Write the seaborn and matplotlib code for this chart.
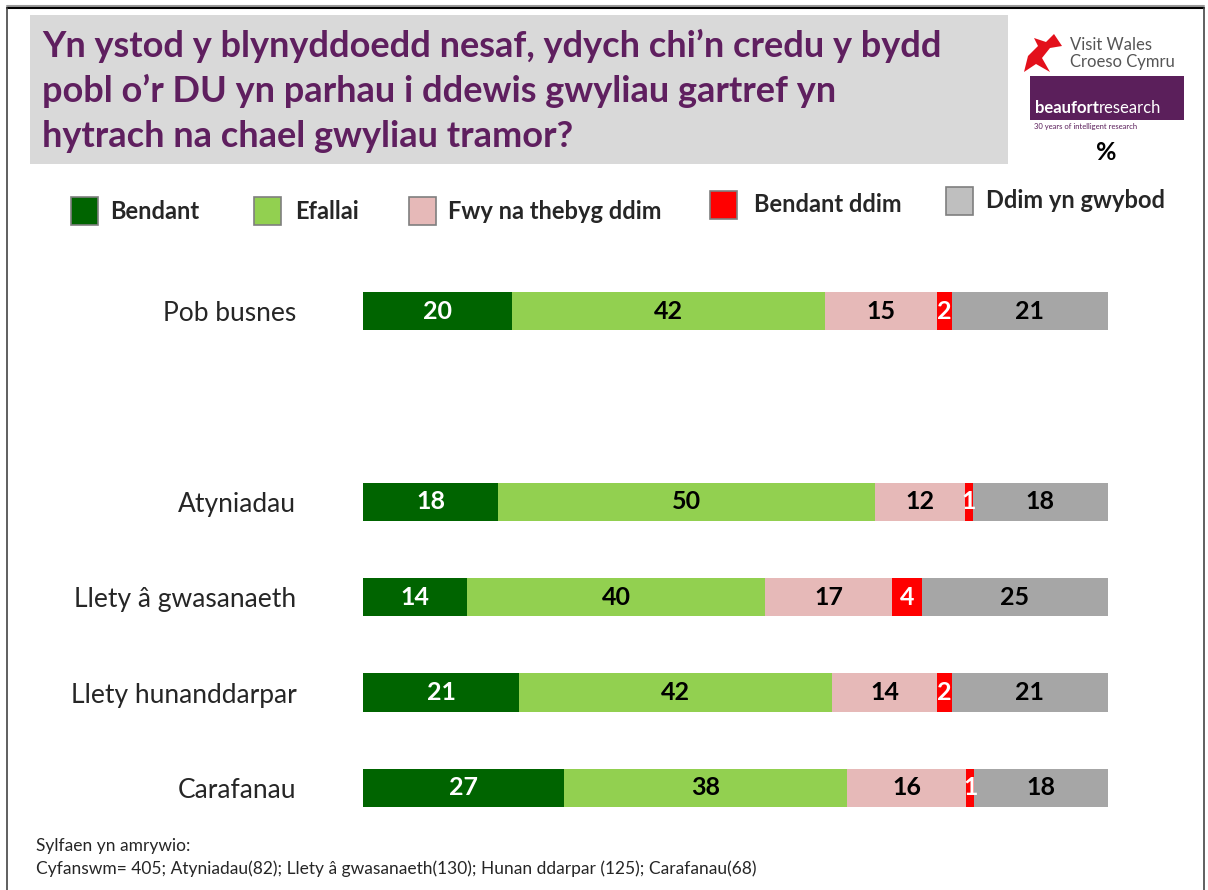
import matplotlib
matplotlib.use('Agg')
import matplotlib.pyplot as plt
from matplotlib.patches import Rectangle, Polygon
from matplotlib.lines import Line2D
from matplotlib.text import Annotation
import seaborn as sns
import numpy as np

# data
categories = ['Pob busnes', 'Atyniadau', 'Llety â gwasanaeth', 'Llety hunanddarpar', 'Carafanau']
row_pos = [0, 2, 3, 4, 5]
series = ['Bendant', 'Efallai', 'Fwy na thebyg ddim', 'Bendant ddim', 'Ddim yn gwybod']
bendant = [20, 18, 14, 21, 27]
efallai = [42, 50, 40, 42, 38]
fwy_na_thebyg = [15, 12, 17, 14, 16]
bendant_ddim = [2, 1, 4, 2, 1]
ddim_gwybod = [21, 18, 25, 21, 18]

colors = ['#006400', '#92D050', '#E6B9B8', '#FF0000', '#A6A6A6']
legend_colors = ['#006400', '#92D050', '#E6B9B8', '#FF0000', '#BFBFBF']
label_colors = ['white', 'black', 'black', 'white', 'black']

title_lines = ["Yn ystod y blynyddoedd nesaf, ydych chi\u2019n credu y bydd",
               "pobl o\u2019r DU yn parhau i ddewis gwyliau gartref yn",
               "hytrach na chael gwyliau tramor?"]
foot_lines = ["Sylfaen yn amrywio:",
              "Cyfanswm= 405; Atyniadau(82); Llety \u00e2 gwasanaeth(130); Hunan ddarpar (125); Carafanau(68)"]

sns.set_theme(style='white')
plt.rcParams['font.family'] = ['Lato', 'DejaVu Sans']

W, H = 1208, 890
fig = plt.figure(figsize=(W / 100, H / 100), dpi=100)


def fx(px):
    return px / W


def fy(py):
    return 1 - py / H


ax = fig.add_axes([fx(363), fy(807), fx(745), 515 / H])

values = np.array([bendant, efallai, fwy_na_thebyg, bendant_ddim, ddim_gwybod], dtype=float)
shares = values / values.sum(axis=0) * 100
cum = np.cumsum(shares, axis=0)

# stacked bars: draw cumulative totals from the back to the front
for i in range(len(series) - 1, -1, -1):
    sns.barplot(x=cum[i], y=row_pos, orient='h', native_scale=True,
                color=colors[i], saturation=1, width=0.4, errorbar=None,
                linewidth=0, ax=ax)

for i in range(len(series)):
    left = cum[i] - shares[i]
    for j, y in enumerate(row_pos):
        ax.text(left[j] + shares[i][j] / 2, y, str(int(values[i][j])),
                ha='center', va='center', fontsize=18, fontweight='bold',
                color=label_colors[i])

ax.set_xlim(0, 100)
ax.set_ylim(5.2, -0.2)
ax.set_yticks(row_pos)
ax.set_yticklabels(categories, fontsize=19)
ax.set_xticks([])
ax.set_xlabel('')
ax.set_ylabel('')
ax.tick_params(axis='y', length=0, pad=48)
for s in ax.spines.values():
    s.set_visible(False)

# frame
fig.add_artist(Line2D([fx(7), fx(1204)], [fy(6), fy(6)], color='#999999', lw=1.5))
fig.add_artist(Line2D([fx(7), fx(1204)], [fy(8), fy(8)], color='black', lw=1.5))
fig.add_artist(Line2D([fx(7), fx(7)], [fy(8), 0], color='#444444', lw=1.2))
fig.add_artist(Line2D([fx(1204), fx(1204)], [fy(8), 0], color='#444444', lw=1.2))

# title
fig.add_artist(Rectangle((fx(30), fy(164)), fx(978), 149 / H, color='#D9D9D9', lw=0))
for k, line in enumerate(title_lines):
    fig.text(fx(42), fy(57 + 45 * k), line, fontsize=26, fontweight='bold',
             color='#5F1F5F', va='baseline', ha='left')

# logos
fig.add_artist(Polygon([(fx(1024), fy(72)), (fx(1028), fy(56)), (fx(1038), fy(46)),
                        (fx(1034), fy(38)), (fx(1046), fy(42)), (fx(1054), fy(34)),
                        (fx(1062), fy(46)), (fx(1050), fy(48)), (fx(1042), fy(58)),
                        (fx(1050), fy(72)), (fx(1036), fy(64))], closed=True,
                       color='#E3101B', lw=0))
fig.text(fx(1070), fy(45), 'Visit Wales', fontsize=12, color='#555555', va='center')
fig.text(fx(1070), fy(62), 'Croeso Cymru', fontsize=12, color='#555555', va='center')
fig.add_artist(Rectangle((fx(1030), fy(120)), fx(154), 44 / H, color='#5B1F5B', lw=0))
t_b = fig.text(fx(1035), fy(116), 'beaufort', fontsize=12, fontweight='bold',
               color='white', va='bottom')
fig.add_artist(Annotation('research', xy=(1, 0), xycoords=t_b, fontsize=12,
                          color='white', va='bottom', ha='left'))
fig.text(fx(1034), fy(127), '30 years of intelligent research', fontsize=5.5,
         color='#5B1F5B', va='center')
fig.text(fx(1106), fy(153), '%', fontsize=18, fontweight='bold', color='black',
         ha='center', va='center')

# legend
legend_items = [(71, 211, 110), (254, 211, 295), (409, 211, 448), (710, 205, 754), (946, 201, 986)]
for (px, py, tx), name, c in zip(legend_items, series, legend_colors):
    fig.add_artist(Rectangle((fx(px), fy(py + 14)), fx(27), 28 / H,
                             facecolor=c, edgecolor='#7F7F7F', lw=1.2))
    fig.text(fx(tx), fy(py), name, fontsize=17, fontweight='bold', va='center', ha='left')

# footnote
fig.text(fx(36), fy(846), foot_lines[0], fontsize=12.5, va='center')
fig.text(fx(36), fy(869), foot_lines[1], fontsize=12.5, va='center')

fig.savefig('out.png', dpi=100)
